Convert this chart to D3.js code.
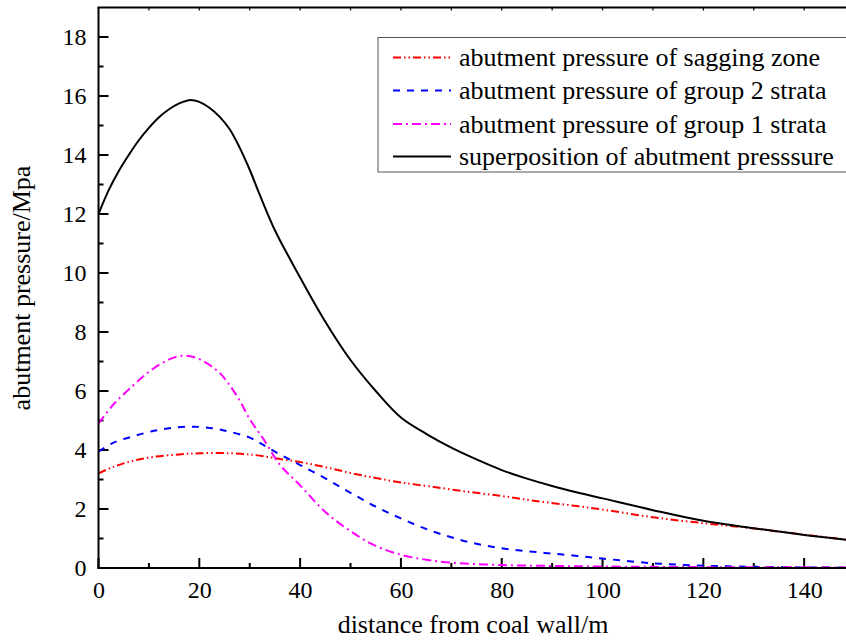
<html><head><meta charset="utf-8"><script src="https://cdn.jsdelivr.net/npm/d3@7"></script></head>
<body style="margin:0">
<svg id="chart" width="846" height="643"></svg>
<script>
// ---- data ----
const xTicksMajor = [0, 20, 40, 60, 80, 100, 120, 140];
const yTicksMajor = [0, 2, 4, 6, 8, 10, 12, 14, 16, 18];

const saggingX = [0, 3, 7, 11, 16, 20, 26, 31, 35, 40, 45, 50, 55, 60, 66, 73, 80, 86, 93, 100, 110, 120, 130, 140, 150];
const saggingY = [3.21, 3.43, 3.64, 3.77, 3.85, 3.89, 3.89, 3.83, 3.72, 3.59, 3.42, 3.22, 3.05, 2.9, 2.76, 2.59, 2.44, 2.29, 2.14, 1.98, 1.72, 1.52, 1.34, 1.13, 0.93];

const group2X = [0, 3, 7, 11, 15, 19, 23, 26, 30, 33, 36, 40, 45, 50, 55, 60, 65, 70, 75, 80, 85, 90, 95, 100, 110, 120, 130, 140, 150];
const group2Y = [3.94, 4.25, 4.47, 4.65, 4.76, 4.79, 4.73, 4.62, 4.42, 4.14, 3.85, 3.49, 3.04, 2.55, 2.08, 1.68, 1.32, 1.04, 0.82, 0.67, 0.57, 0.49, 0.41, 0.32, 0.16, 0.08, 0.04, 0.02, 0.01];

const group1X = [0, 3, 6, 10, 14, 17, 20, 24, 26, 28, 30, 33, 36, 40, 45, 50, 55, 60, 65, 70, 80, 90, 100, 120, 150];
const group1Y = [4.9, 5.55, 6.05, 6.65, 7.07, 7.2, 7.08, 6.62, 6.2, 5.68, 5.05, 4.3, 3.5, 2.8, 1.9, 1.25, 0.75, 0.45, 0.28, 0.18, 0.1, 0.07, 0.05, 0.03, 0.02];

const superX = [0, 2, 4, 6, 8, 10, 12, 14, 16, 18, 20, 22, 24, 26, 28, 30, 32, 35, 40, 45, 50, 55, 60, 65, 70, 75, 80, 85, 90, 95, 100, 110, 120, 130, 140, 150];
const superY = [12.0, 12.8, 13.45, 14.0, 14.5, 14.92, 15.28, 15.55, 15.75, 15.86, 15.8, 15.6, 15.3, 14.88, 14.25, 13.5, 12.65, 11.45, 9.85, 8.35, 7.05, 6.0, 5.1, 4.55, 4.08, 3.68, 3.32, 3.03, 2.78, 2.56, 2.36, 1.96, 1.6, 1.35, 1.12, 0.93];

const seriesNames = ["abutment pressure of sagging zone", "abutment pressure of group 2 strata", "abutment pressure of group 1 strata", "superposition of abutment presssure"];
const xTitle = "distance from coal wall/m";
const yTitle = "abutment pressure/Mpa";

// ---- layout ----
const FONT = "Tinos";
const svg = d3.select("#chart");
const L = 98.5, R = 846, T = 7.5, B = 568;
const x = d3.scaleLinear().domain([0, 148.3]).range([L, R]);
const y = d3.scaleLinear().domain([0, 19]).range([B, T]);

const styles = [
  {color: "#ff0000", dash: "8,3,1.5,3,1.5,3"},
  {color: "#0000ff", dash: "7,7"},
  {color: "#ff00ff", dash: "9,4,2,4"},
  {color: "#000000", dash: null}
];
const seriesData = [
  saggingX.map((v, i) => [v, saggingY[i]]),
  group2X.map((v, i) => [v, group2Y[i]]),
  group1X.map((v, i) => [v, group1Y[i]]),
  superX.map((v, i) => [v, superY[i]])
];

svg.append("defs").append("clipPath").attr("id", "clip")
  .append("rect").attr("x", L).attr("y", T).attr("width", R - L).attr("height", B - T + 2);

const xAxis = svg.append("g").attr("transform", `translate(0,${B})`)
  .call(d3.axisBottom(x).tickValues(xTicksMajor).tickSize(0).tickPadding(0).tickFormat(d3.format("d")));
xAxis.select(".domain").remove();
xAxis.attr("font-family", FONT).attr("font-size", 24);
xAxis.selectAll("text").attr("dy", null).attr("y", 30).attr("fill", "#000")
  .attr("font-family", FONT).attr("font-size", 24);

const yAxis = svg.append("g").attr("transform", `translate(${L},0)`)
  .call(d3.axisLeft(y).tickValues(yTicksMajor).tickSize(0).tickPadding(12).tickFormat(d3.format("d")));
yAxis.select(".domain").remove();
yAxis.attr("font-family", FONT).attr("font-size", 24);
yAxis.selectAll("text").attr("dy", "0.33em").attr("fill", "#000")
  .attr("font-family", FONT).attr("font-size", 24);

const tickG = svg.append("g").attr("stroke", "#000").attr("stroke-width", 2);
d3.range(0, 149, 10).forEach(v => {
  const len = v % 20 === 0 ? 10 : 5;
  tickG.append("line").attr("x1", x(v)).attr("x2", x(v)).attr("y1", B).attr("y2", B - len);
});
d3.range(0, 149, 10).forEach(v => {
  tickG.append("line").attr("x1", x(v)).attr("x2", x(v)).attr("y1", T).attr("y2", T + 3).attr("stroke-width", 1.2);
});
d3.range(0, 19, 1).forEach(v => {
  const len = v % 2 === 0 ? 10 : 5;
  tickG.append("line").attr("x1", L).attr("x2", L + len).attr("y1", y(v)).attr("y2", y(v));
});

const line = d3.line().x(d => x(d[0])).y(d => y(d[1])).curve(d3.curveCatmullRom.alpha(0.5));
const lg = svg.append("g").attr("clip-path", "url(#clip)");
seriesData.forEach((d, i) => {
  lg.append("path").datum(d).attr("d", line)
    .attr("fill", "none").attr("stroke", styles[i].color).attr("stroke-width", 2)
    .attr("stroke-dasharray", styles[i].dash);
});

svg.append("line").attr("x1", L).attr("x2", L).attr("y1", T).attr("y2", B + 1).attr("stroke", "#000").attr("stroke-width", 2);
svg.append("line").attr("x1", L - 1).attr("x2", R).attr("y1", B).attr("y2", B).attr("stroke", "#000").attr("stroke-width", 2);
svg.append("line").attr("x1", L - 1).attr("x2", R).attr("y1", T).attr("y2", T).attr("stroke", "#000").attr("stroke-width", 2);

const leg = svg.append("g").attr("font-family", FONT);
leg.append("rect").attr("x", 378).attr("y", 37.5).attr("width", 480).attr("height", 134.5)
  .attr("fill", "#fff").attr("stroke", "#555").attr("stroke-width", 1);
const rowY = [57.5, 90.5, 124, 156.5];
seriesNames.forEach((n, i) => {
  leg.append("line").attr("x1", 393).attr("x2", 451).attr("y1", rowY[i]).attr("y2", rowY[i])
    .attr("stroke", styles[i].color).attr("stroke-width", 2).attr("stroke-dasharray", styles[i].dash);
  leg.append("text").attr("x", 459).attr("y", rowY[i]).attr("dy", "0.33em").attr("fill", "#000")
    .attr("font-family", FONT).attr("font-size", 26).text(n);
});

svg.append("text").attr("x", 473).attr("y", 633).attr("text-anchor", "middle")
  .attr("font-family", FONT).attr("font-size", 26).attr("fill", "#000").text(xTitle);
svg.append("text").attr("transform", "translate(30,288) rotate(-90)").attr("text-anchor", "middle")
  .attr("font-family", FONT).attr("font-size", 26).attr("fill", "#000").text(yTitle);
</script>
</body>
</html>
